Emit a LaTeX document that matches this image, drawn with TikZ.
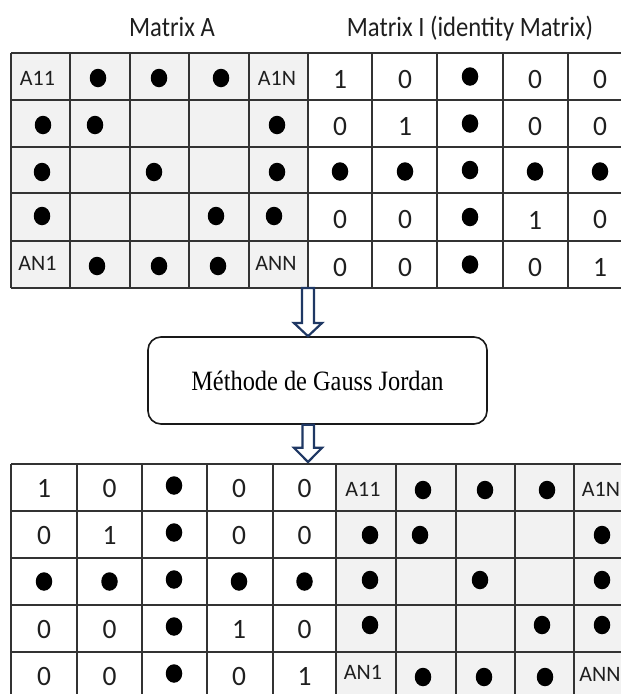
\documentclass[tikz,border=0pt]{standalone}
\usepackage{fontspec}
\setmainfont{Carlito}
\newfontfamily\titlef[FakeStretch=0.88]{Carlito}
\newfontfamily\numf[FakeStretch=0.98]{Carlito}
\newfontfamily\lblf{Carlito}
\newfontfamily\tmsf[FakeStretch=0.87]{Liberation Serif}
\usetikzlibrary{shapes.geometric,calc}
\definecolor{cellgray}{HTML}{F2F2F2}
\definecolor{gridc}{HTML}{333333}
\definecolor{navy}{HTML}{1F3864}
\begin{document}
\begin{tikzpicture}[x=1pt,y=-1pt,
  gridline/.style={draw=gridc,line width=1.3pt},
  dotn/.style={ellipse,fill=black,draw=none,inner sep=0pt,minimum width=16.5pt,minimum height=18.5pt},
  lbl/.style={font=\lblf\fontsize{22}{22}\selectfont,inner sep=0pt,text=black!88},
  num/.style={font=\numf\fontsize{28}{28}\selectfont,inner sep=0pt,text=black!88},
  ttl/.style={font=\titlef\fontsize{28}{28}\selectfont,inner sep=0pt,anchor=base,text=black!88},
  procbox/.style={draw=black!90,line width=1.6pt,rounded corners=13pt,fill=white,
    minimum width=339pt,minimum height=87pt,inner sep=0pt},
  proctext/.style={font=\tmsf\fontsize{28}{28}\selectfont,inner sep=0pt,anchor=base},
  blockarrow/.style={draw=navy,line width=2.2pt,fill=white,line join=miter}
]
\useasboundingbox (0,0) rectangle (621,694);
\clip (0,0) rectangle (621,694);
\fill[white] (0,0) rectangle (621,694);

% ---------- titles ----------
\node[ttl] (titleA) at (172,36) {Matrix A};
\node[ttl] (titleI) at (470,36) {Matrix I (identity Matrix)};

% ---------- top left matrix A (gray) ----------
\fill[cellgray] (11,53) rectangle (308,288);
\foreach \x in {11,70,130,189,249,308} \draw[gridline] (\x,53) -- (\x,288);
\foreach \y in {53,100,147,193,241,288} \draw[gridline] (11,\y) -- (308,\y);
% ---------- top right identity (white) ----------
\foreach \x in {372,437,503,568,633} \draw[gridline] (\x,53) -- (\x,288);
\foreach \y in {53,100,147,193,241,288} \draw[gridline] (308,\y) -- (633,\y);

\node[lbl] (tlA11) at (37.5,78) {A11};
\node[lbl] (tlA1N) at (277,78) {A1N};
\node[lbl] (tlAN1) at (37.5,263) {AN1};
\node[lbl] (tlANN) at (276,263) {ANN};
\foreach \xx/\yy [count=\i] in {98/78,159/78,221/78,43/125,95/125,277/125,42/172,154/172,277/172,42/216,216/216,274/216,97/266,159/266,218/266}
  \node[dotn] (tld\i) at (\xx,\yy) {};

\foreach \r/\yy in {1/76.5,2/123.5,3/170,4/217,5/264.5}{
  \foreach \c/\xx in {1/340,2/405,3/470,4/535,5/600}{
    \ifnum\c=3
      \node[dotn] (tr-\r-\c) at (\xx,\yy) {};
    \else\ifnum\r=3
      \node[dotn] (tr-\r-\c) at (\xx,\yy+1.5) {};
    \else\ifnum\r=\c
      \node[num] (tr-\r-\c) at (\xx,\yy+3) {1};
    \else
      \node[num] (tr-\r-\c) at (\xx,\yy+3) {0};
    \fi\fi\fi
  }
}

% ---------- process box ----------
\node[procbox] (box) at (317.5,380.5) {};
\node[proctext] (boxtext) at (317.5,390) {Méthode de Gauss Jordan};

% ---------- block arrows ----------
\coordinate (a1) at (308,288);
\coordinate (a2) at (box.south -| a1);
\draw[blockarrow] ($(a1)+(-6,0)$) -- ++(0,35) -- ++(-8,0) -- ($(box.north -| a1)$) -- ($(a1)+(14,35)$) -- ++(-8,0) -- ++(0,-35) -- cycle;
\coordinate (b2) at (308,462);
\draw[blockarrow] ($(a2)+(-5.5,0)$) -- ++(0,23) -- ++(-8.5,0) -- (b2) -- ($(a2)+(14,23)$) -- ++(-8,0) -- ++(0,-23) -- cycle;

% ---------- bottom left identity (white) ----------
\foreach \x in {11,77,142,207,273,336} \draw[gridline] (\x,464) -- (\x,699);
\foreach \y in {464,511,558,605,652} \draw[gridline] (11,\y) -- (336,\y);
% ---------- bottom right matrix A (gray) ----------
\fill[cellgray] (336,464) rectangle (633,699);
\foreach \x in {336,396,456,515,574,633} \draw[gridline] (\x,464) -- (\x,699);
\foreach \y in {464,511,558,605,652} \draw[gridline] (336,\y) -- (633,\y);

\foreach \r/\yy in {1/487.5,2/534.5,3/581.5,4/628.5,5/675.5}{
  \foreach \c/\xx in {1/44,2/109.5,3/174,4/239,5/304.5}{
    \ifnum\c=3
      \node[dotn] (bl-\r-\c) at (\xx,\yy-2) {};
    \else\ifnum\r=3
      \node[dotn] (bl-\r-\c) at (\xx,\yy) {};
    \else\ifnum\r=\c
      \node[num] (bl-\r-\c) at (\xx,\yy+1) {1};
    \else
      \node[num] (bl-\r-\c) at (\xx,\yy+1) {0};
    \fi\fi\fi
  }
}

\node[lbl] (brA11) at (363,489) {A11};
\node[lbl] (brA1N) at (601,489) {A1N};
\node[lbl] (brAN1) at (363,672) {AN1};
\node[lbl] (brANN) at (600,674) {ANN};
\foreach \xx/\yy [count=\i] in {423/490,485/490,547/490,370/535,420/535,602/535,370/580,480/580,602/580,370/625,542/625,602/625,423/677,484/677,545/677}
  \node[dotn] (brd\i) at (\xx,\yy) {};
\end{tikzpicture}
\end{document}
